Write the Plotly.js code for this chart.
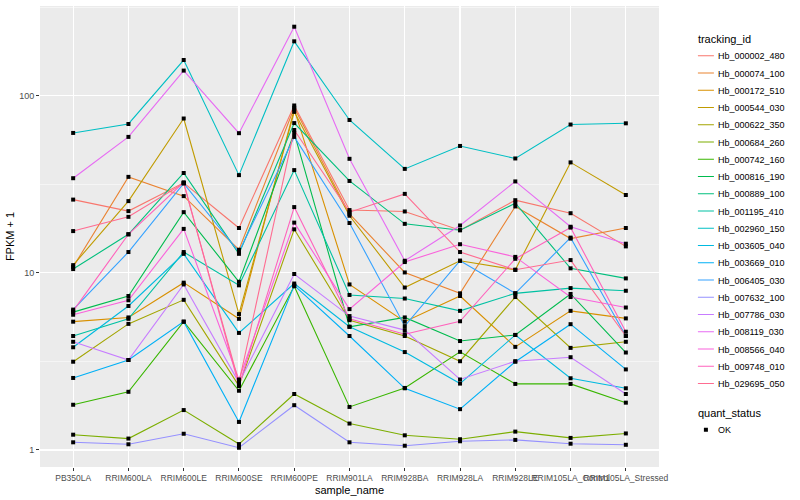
<!DOCTYPE html>
<html><head><meta charset="utf-8">
<script src="https://cdn.plot.ly/plotly-3.0.1.min.js"></script>
<style>html,body{margin:0;padding:0;background:#fff}#chart{width:800px;height:500px}</style>
</head><body><div id="chart"></div>
<script>
const samples = ["PB350LA","RRIM600LA","RRIM600LE","RRIM600SE","RRIM600PE","RRIM901LA","RRIM928BA","RRIM928LA","RRIM928LE","RRIM105LA_Control","RRIM105LA_Stressed"];
const trackingIds = ["Hb_000002_480","Hb_000074_100","Hb_000172_510","Hb_000544_030","Hb_000622_350","Hb_000684_260","Hb_000742_160","Hb_000816_190","Hb_000889_100","Hb_001195_410","Hb_002960_150","Hb_003605_040","Hb_003669_010","Hb_006405_030","Hb_007632_100","Hb_007786_030","Hb_008119_030","Hb_008566_040","Hb_009748_010","Hb_029695_050"];
const lineColors = ["#F8766D","#EA8331","#D89000","#C09B00","#A3A500","#7CAE00","#39B600","#00BB4E","#00BF7D","#00C1A3","#00BFC4","#00BAE0","#00B0F6","#35A2FF","#9590FF","#C77CFF","#E76BF3","#FA62DB","#FF62BC","#FF6C91"];

const Hb_000002_480 = [25.9, 22.3, 32.2, 17.9, 88, 22.6, 22.2, 17.4, 25.7, 21.7, 14.1];
const Hb_000074_100 = [10.8, 34.8, 27.1, 13.5, 85.5, 21.5, 10.05, 7.66, 23.7, 15.6, 17.9];
const Hb_000172_510 = [5.3, 5.6, 8.8, 5.5, 83.7, 8.6, 5.3, 7.4, 3.82, 6.1, 5.53];
const Hb_000544_030 = [11.05, 25.4, 74.3, 5.85, 81, 21, 8.26, 11.7, 10.4, 42, 27.5];
const Hb_000622_350 = [3.15, 5.15, 7.04, 2.3, 17.6, 5.4, 4.4, 3.17, 7.3, 3.77, 4.08];
const Hb_000684_260 = [1.22, 1.16, 1.68, 1.08, 2.07, 1.41, 1.21, 1.15, 1.27, 1.17, 1.24];
const Hb_000742_160 = [1.80, 2.13, 5.3, 2.16, 8.4, 1.75, 2.24, 3.58, 2.36, 2.36, 1.85];
const Hb_000816_190 = [6.0, 7.4, 22, 8.9, 61.5, 4.96, 5.6, 4.12, 4.46, 7.6, 3.55];
const Hb_000889_100 = [10.5, 16.5, 36.6, 12.8, 70, 33, 18.9, 17.4, 24.7, 10.6, 9.3];
const Hb_001195_410 = [4.4, 5.5, 13.1, 8.5, 38, 7.5, 7.16, 6.1, 7.66, 8.2, 7.92];
const Hb_002960_150 = [61.6, 69.2, 158.9, 35.6, 202.6, 72.9, 38.6, 52, 44.2, 68.7, 69.8];
const Hb_003605_040 = [3.8, 6.5, 12.8, 4.58, 8.7, 4.96, 3.57, 2.37, 4.46, 2.54, 2.23];
const Hb_003669_010 = [2.55, 3.22, 5.3, 1.44, 8.5, 4.4, 2.23, 1.7, 3.15, 5.13, 2.85];
const Hb_006405_030 = [6.2, 13.1, 32, 13.1, 58.5, 19.1, 5.0, 11.7, 7.66, 15.8, 4.4];
const Hb_007632_100 = [1.105, 1.077, 1.235, 1.03, 1.79, 1.105, 1.057, 1.12, 1.14, 1.085, 1.07];
const Hb_007786_030 = [4.08, 3.22, 8.6, 2.4, 9.85, 5.7, 4.75, 2.5, 3.17, 3.34, 2.07];
const Hb_008119_030 = [34.2, 58.5, 138.5, 61.4, 245, 44, 11.7, 18.5, 32.8, 18.2, 14.6];
const Hb_008566_040 = [5.8, 7.0, 17.7, 2.5, 19.2, 6.24, 11.5, 14.5, 12.3, 7.3, 6.37];
const Hb_009748_010 = [6.1, 16.5, 32.4, 2.3, 23.5, 5.5, 4.5, 5.33, 12.0, 18.0, 4.65];
const Hb_029695_050 = [17.2, 20.7, 32.0, 2.4, 64, 22, 27.9, 13.1, 10.4, 11.8, 4.4];

const seriesValues = [Hb_000002_480,Hb_000074_100,Hb_000172_510,Hb_000544_030,Hb_000622_350,Hb_000684_260,Hb_000742_160,Hb_000816_190,Hb_000889_100,Hb_001195_410,Hb_002960_150,Hb_003605_040,Hb_003669_010,Hb_006405_030,Hb_007632_100,Hb_007786_030,Hb_008119_030,Hb_008566_040,Hb_009748_010,Hb_029695_050];
const yTickVals = [1, 10, 100];
const yTickText = ["1", "10", "100"];
const yMinorVals = [Math.sqrt(10), Math.sqrt(1000), Math.sqrt(100000)];

const FONT = "Liberation Sans, Arial, sans-serif";
const traces = trackingIds.map((id, i) => ({
  type: "scatter", mode: "lines", name: id, x: samples, y: seriesValues[i],
  line: {color: lineColors[i], width: 1.1},
  legendgroup: "tracking", legendgrouptitle: {text: "tracking_id", font: {size: 11, color: "#000", family: FONT}},
  hoverinfo: "skip"
}));
const px = [], py = [];
seriesValues.forEach(v => v.forEach((val, j) => { px.push(samples[j]); py.push(val); }));
traces.push({
  type: "scatter", mode: "markers", name: "OK", x: px, y: py,
  marker: {color: "#000", size: 4, symbol: "square"},
  legendgroup: "quant", legendgrouptitle: {text: "quant_status", font: {size: 11, color: "#000", family: FONT}},
  hoverinfo: "skip"
});

const layout = {
  width: 800, height: 500,
  margin: {l: 40, r: 116, t: 6, b: 33},
  paper_bgcolor: "#fff", plot_bgcolor: "#EBEBEB",
  font: {family: FONT, size: 9, color: "#4D4D4D"},
  showlegend: true,
  legend: {x: 1.037, xanchor: "left", y: 0.958, yanchor: "top", font: {size: 9, color: "#000", family: FONT},
           tracegroupgap: 14, bgcolor: "rgba(0,0,0,0)"},
  xaxis: {type: "category", categoryorder: "array", categoryarray: samples, range: [-0.6, 10.6],
          tickangle: 0, ticks: "outside", ticklen: 3, tickcolor: "#333", tickfont: {size: 8.5, color: "#4D4D4D"},
          showgrid: true, gridcolor: "#fff", gridwidth: 1.1, zeroline: false, showline: false,
          title: {text: "sample_name", font: {size: 11, color: "#000"}, standoff: 4}, fixedrange: true},
  yaxis: {type: "log", range: [-0.096, 2.506], tickmode: "array", tickvals: yTickVals, ticktext: yTickText,
          ticks: "outside", ticklen: 3, tickcolor: "#333", tickfont: {size: 9, color: "#4D4D4D"},
          showgrid: true, gridcolor: "#fff", gridwidth: 1.1, zeroline: false, showline: false,
          minor: {tickmode: "array", tickvals: yMinorVals, showgrid: true, gridcolor: "#fff", gridwidth: 0.5, ticks: ""},
          title: {text: "FPKM + 1", font: {size: 11, color: "#000"}, standoff: 2}, fixedrange: true}
};
const gd = document.getElementById("chart");
Plotly.newPlot(gd, traces, layout, {displayModeBar: false, staticPlot: true}).then(() => {
  // tighten legend spacing to ggplot-like key height
  const k = 17.25 / 19;
  const parseT = el => {
    const t = el.getAttribute("transform") || "";
    const m = /translate\(\s*([-\d.e]+)[ ,]+([-\d.e]+)/.exec(t);
    return m ? [parseFloat(m[1]), parseFloat(m[2])] : null;
  };
  const leg = gd.querySelector("g.legend");
  if (leg) {
    const t = parseT(leg);
    if (t) leg.setAttribute("transform", `translate(${t[0] + 11},${t[1]})`);
  }
  gd.querySelectorAll(".legend g.groups").forEach(g => {
    const t = parseT(g); if (t) g.setAttribute("transform", `translate(${t[0]},${t[1] * k - 1})`);
  });
  gd.querySelectorAll(".legend g.traces").forEach(g => {
    const t = parseT(g); if (t) g.setAttribute("transform", `translate(${t[0]},${t[1] * k})`);
  });
  gd.querySelectorAll(".legend path.js-line").forEach(p => p.setAttribute("d", "M5,0h16"));
  gd.querySelectorAll(".legend g.legendpoints path.scatterpts").forEach(p => p.setAttribute("transform", "translate(13,0)"));
  gd.querySelectorAll(".legend g.traces").forEach(g => {
    const hasSym = g.querySelector("path.js-line, path.scatterpts");
    const txt = g.querySelector("text.legendtext");
    if (hasSym && txt) { txt.setAttribute("x", 25); txt.querySelectorAll("tspan[x]").forEach(s => s.setAttribute("x", 25)); }
  });
});
</script></body></html>
